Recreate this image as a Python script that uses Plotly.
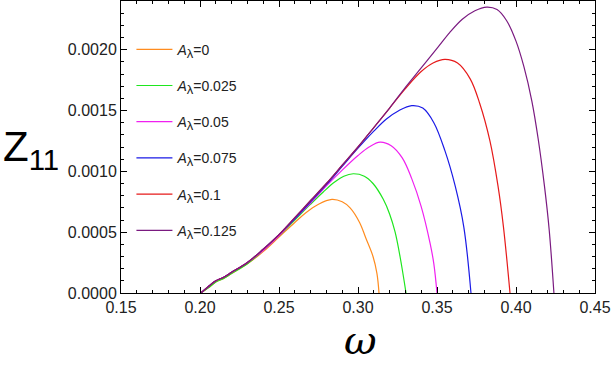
import plotly.graph_objects as go

# omega values and Z11 values per A_lambda curve
w_0 = [0.2005, 0.205, 0.21, 0.215, 0.22, 0.23, 0.24, 0.25, 0.26, 0.267, 0.275, 0.2835,
       0.29, 0.295, 0.301, 0.305, 0.3095, 0.312, 0.3133]
z_0 = [0, 0.00004, 0.00009, 0.00012, 0.00016, 0.00024, 0.00034, 0.00046, 0.00058, 0.00066,
       0.00073, 0.00077, 0.00075, 0.0007, 0.00058, 0.00045, 0.0003, 0.00016, 0]

w_025 = [0.2005, 0.205, 0.21, 0.215, 0.22, 0.23, 0.24, 0.25, 0.26, 0.27, 0.278, 0.285,
         0.291, 0.297, 0.304, 0.3095, 0.316, 0.32, 0.3235, 0.3266, 0.3304]
z_025 = [0, 0.00004, 0.00009, 0.00012, 0.00016, 0.00024, 0.00035, 0.00047, 0.0006, 0.00073,
         0.00083, 0.00091, 0.00096, 0.00098, 0.00096, 0.0009, 0.00077, 0.00065, 0.0005, 0.0003, 0]

w_05 = [0.2005, 0.205, 0.21, 0.215, 0.22, 0.23, 0.24, 0.25, 0.26, 0.27, 0.28, 0.29,
        0.3, 0.307, 0.314, 0.321, 0.328, 0.334, 0.34, 0.3456, 0.348, 0.35]
z_05 = [0, 0.00005, 0.0001, 0.00013, 0.00017, 0.00025, 0.00035, 0.00047, 0.00061, 0.00074,
        0.00088, 0.00101, 0.00113, 0.0012, 0.00124, 0.00121, 0.00111, 0.00094, 0.00071,
        0.00041, 0.00024, 0]

w_075 = [0.2005, 0.205, 0.21, 0.215, 0.22, 0.23, 0.24, 0.25, 0.26, 0.27, 0.28, 0.29,
         0.3, 0.31, 0.318, 0.326, 0.334, 0.341, 0.348, 0.355, 0.3615, 0.367, 0.3715]
z_075 = [0, 0.00005, 0.0001, 0.00013, 0.00017, 0.00025, 0.00036, 0.00048, 0.00061, 0.00075,
         0.00089, 0.00104, 0.00119, 0.00133, 0.00143, 0.0015, 0.00154, 0.00152, 0.0014,
         0.00117, 0.00088, 0.00054, 0]

w_1 = [0.2005, 0.205, 0.21, 0.215, 0.22, 0.23, 0.24, 0.25, 0.26, 0.27, 0.28, 0.29,
       0.3, 0.31, 0.32, 0.33, 0.34, 0.3475, 0.355, 0.363, 0.371, 0.377, 0.3835, 0.3886,
       0.392, 0.3962]
z_1 = [0, 0.00005, 0.0001, 0.00013, 0.00017, 0.00025, 0.00036, 0.00048, 0.00062, 0.00076,
       0.0009, 0.00105, 0.0012, 0.00136, 0.00152, 0.00168, 0.00182, 0.00189, 0.00192, 0.00189,
       0.00176, 0.00156, 0.00125, 0.00088, 0.00055, 0]

w_125 = [0.2005, 0.205, 0.21, 0.215, 0.22, 0.23, 0.24, 0.25, 0.26, 0.27, 0.28, 0.29,
         0.3, 0.31, 0.32, 0.33, 0.34, 0.35, 0.358, 0.366, 0.374, 0.3815, 0.388, 0.394,
         0.4, 0.405, 0.41, 0.414, 0.418, 0.421, 0.424]
z_125 = [0, 0.00005, 0.0001, 0.00013, 0.00017, 0.00025, 0.00036, 0.00048, 0.00062, 0.00076,
         0.0009, 0.00105, 0.0012, 0.00136, 0.00152, 0.00169, 0.00185, 0.00201, 0.00214,
         0.00225, 0.00232, 0.00235, 0.00233, 0.00224, 0.00207, 0.00186, 0.00158, 0.00127,
         0.00088, 0.00052, 0]

names = ["0", "0.025", "0.05", "0.075", "0.1", "0.125"]
colors = ["#FF8C1F", "#1EE61E", "#F020F0", "#1A1AE6", "#E61A1A", "#7A1A80"]
series = [(w_0, z_0), (w_025, z_025), (w_05, z_05), (w_075, z_075), (w_1, z_1), (w_125, z_125)]

fig = go.Figure()
for i, (name, col, (w, z)) in enumerate(zip(names, colors, series)):
    fig.add_trace(go.Scatter(
        x=w, y=z, mode="lines",
        line=dict(color=col, width=1.2, shape="spline", smoothing=1),
        name="<i>A</i><sub><span style='font-size:13px'>λ</span></sub>=" + name,
        legendgroup="g%d" % i,
    ))

axis_common = dict(
    showgrid=False, zeroline=False, showline=True, linecolor="black", linewidth=1,
    mirror="ticks", ticks="inside", ticklen=6, tickcolor="black", tickwidth=1,
    tickfont=dict(family="Liberation Sans, Arial", size=16, color="#222"),
)

fig.update_xaxes(range=[0.15, 0.45], dtick=0.05, tick0=0.15, tickformat=".2f",
                 minor=dict(dtick=0.01, ticks="inside", ticklen=3, tickcolor="black"),
                 **axis_common)
fig.update_yaxes(range=[0, 0.0024], dtick=0.0005, tick0=0, tickformat=".4f",
                 minor=dict(dtick=0.0001, ticks="inside", ticklen=3, tickcolor="black"),
                 **axis_common)

fig.add_annotation(text="Z<sub>11</sub>", xref="paper", yref="paper", x=-0.19, y=0.49,
                   showarrow=False, xanchor="center", yanchor="middle",
                   font=dict(family="Liberation Sans, Arial", size=42, color="black"))
fig.add_annotation(text="<i>ω</i>", xref="paper", yref="paper", x=0.505, y=-0.16,
                   showarrow=False, xanchor="center", yanchor="middle",
                   font=dict(family="DejaVu Serif", size=40, color="black"))

fig.update_layout(
    width=612, height=373,
    margin=dict(l=121, r=17, t=1, b=80),
    plot_bgcolor="white", paper_bgcolor="white",
    showlegend=True,
    legend=dict(x=0.022, y=0.888, xanchor="left", yanchor="top", itemwidth=36,
                bgcolor="rgba(0,0,0,0)", tracegroupgap=15,
                font=dict(family="Liberation Sans, Arial", size=14, color="#222")),
)

fig.write_html("out.html", config={"displayModeBar": False},
               post_script="document.body.style.margin='0';")
